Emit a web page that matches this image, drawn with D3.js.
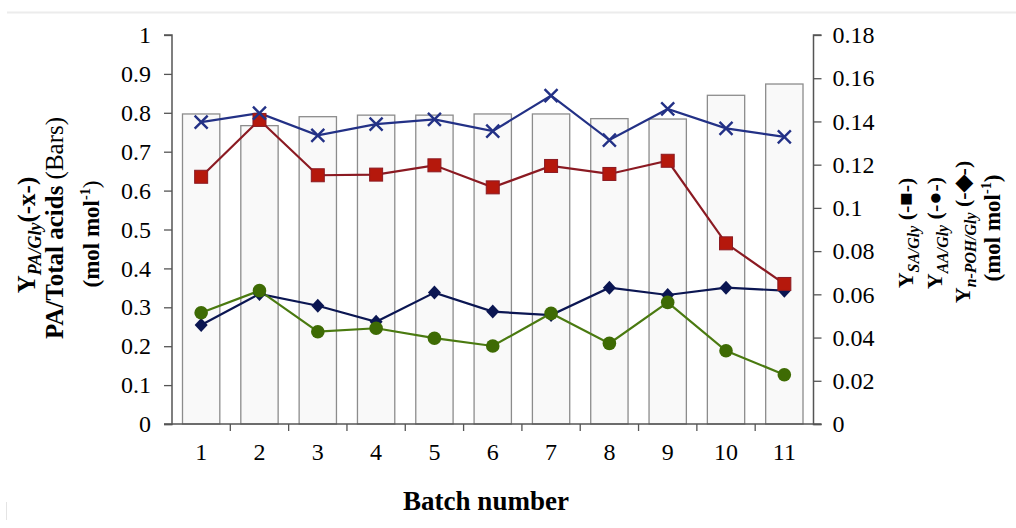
<!doctype html>
<html>
<head>
<meta charset="UTF-8" />
<title>Batch yields</title>
<script src="https://d3js.org/d3.v7.min.js"></script>
<style>
  body { margin: 0; background: #fff; }
  svg text { font-family: "Liberation Serif", "Times New Roman", serif; fill: #000; }
</style>
</head>
<body>
<div id="chart"></div>
<script>
// data
const batches = ["1", "2", "3", "4", "5", "6", "7", "8", "9", "10", "11"];
const paTotalAcids = [0.797, 0.767, 0.790, 0.794, 0.794, 0.797, 0.797, 0.785, 0.784, 0.845, 0.874];
const yPA = [0.776, 0.799, 0.742, 0.771, 0.783, 0.753, 0.844, 0.730, 0.810, 0.760, 0.738];
const ySA = [0.1144, 0.1407, 0.1151, 0.1154, 0.1197, 0.1095, 0.1194, 0.1157, 0.1218, 0.0836, 0.0648];
const yAA = [0.0515, 0.0617, 0.0427, 0.0443, 0.0397, 0.0361, 0.0512, 0.0373, 0.0563, 0.0339, 0.0228];
const yPOH = [0.0458, 0.0602, 0.0547, 0.0473, 0.0608, 0.0520, 0.0504, 0.0631, 0.0597, 0.0631, 0.0617];
const leftTicks = [0, 0.1, 0.2, 0.3, 0.4, 0.5, 0.6, 0.7, 0.8, 0.9, 1];
const rightTicks = [0, 0.02, 0.04, 0.06, 0.08, 0.1, 0.12, 0.14, 0.16, 0.18];

const W = 1016, H = 528;
const pLeft = 172, pRight = 813.5, pTop = 35, pBottom = 424;

const svg = d3.select("#chart").append("svg")
    .attr("width", W)
    .attr("height", H);

// faint frame bits of the scanned figure
svg.append("line").attr("x1", 7).attr("x2", 1016).attr("y1", 12.5).attr("y2", 12.5)
    .attr("stroke", "#ececec").attr("stroke-width", 2);
svg.append("line").attr("x1", 6.5).attr("x2", 6.5).attr("y1", 502).attr("y2", 520)
    .attr("stroke", "#e4e4e4").attr("stroke-width", 1);

const x = d3.scaleBand().domain(batches).range([pLeft, pRight]).paddingInner(0.36).paddingOuter(0.18);
const xb = d3.scaleBand().domain(batches).range([pLeft, pRight]);
const yL = d3.scaleLinear().domain([0, 1]).range([pBottom, pTop]);
const yR = d3.scaleLinear().domain([0, 0.18]).range([pBottom, pTop]);

// bars
svg.append("g").selectAll("rect")
  .data(paTotalAcids)
  .join("rect")
    .attr("x", (d, i) => x(batches[i]))
    .attr("y", d => yL(d))
    .attr("width", x.bandwidth())
    .attr("height", d => pBottom - yL(d))
    .attr("fill", "#f9f9f9")
    .attr("stroke", "#8c8c8c")
    .attr("stroke-width", 1.3);

const cx = i => xb(batches[i]) + xb.bandwidth() / 2;

// axes
const axisColor = "#555";
const gL = svg.append("g").attr("transform", `translate(${pLeft},0)`)
    .call(d3.axisLeft(yL).tickValues(leftTicks).tickSize(8).tickPadding(13).tickFormat(d3.format("")));
const gR = svg.append("g").attr("transform", `translate(${pRight},0)`)
    .call(d3.axisRight(yR).tickValues(rightTicks).tickSize(8).tickPadding(11).tickFormat(d3.format("")));
const gX = svg.append("g").attr("transform", `translate(0,${pBottom})`)
    .call(d3.axisBottom(xb).tickSize(0).tickPadding(19));
// x ticks sit at the band boundaries
gX.selectAll(".bnd").data(d3.range(1, batches.length))
  .join("line")
    .attr("class", "bnd")
    .attr("x1", i => pLeft + i * xb.step()).attr("x2", i => pLeft + i * xb.step())
    .attr("y1", 0).attr("y2", 7)
    .attr("stroke", axisColor).attr("stroke-width", 1.3);
[gL, gR, gX].forEach(g => {
  g.select(".domain").attr("stroke", axisColor).attr("stroke-width", 1.5);
  g.selectAll(".tick line").attr("stroke", axisColor).attr("stroke-width", 1.3);
  g.selectAll("text").attr("font-size", 24).attr("font-family", "Liberation Serif").attr("fill", "#000");
});
gL.select(".domain").attr("d", `M-8,${pTop}H0V${pBottom + 0.5}H-8`);
gR.select(".domain").attr("d", `M8,${pTop}H0V${pBottom + 0.5}H8`);
gX.select(".domain").attr("d", `M${pLeft - 8},0H${pRight + 8}`);

// series lines
const lineOf = (arr, y) => d3.line().x((d, i) => cx(i)).y(d => y(d))(arr);
const series = [
  { vals: yPOH, y: yR, line: "#0b1652" },
  { vals: yAA, y: yR, line: "#4a7a10" },
  { vals: ySA, y: yR, line: "#8b1a22" },
  { vals: yPA, y: yL, line: "#233186" }
];
series.forEach(s => {
  svg.append("path").attr("d", lineOf(s.vals, s.y))
    .attr("fill", "none").attr("stroke", s.line).attr("stroke-width", 2.2);
});

// markers
svg.append("g").selectAll("path").data(yPOH).join("path")
    .attr("transform", (d, i) => `translate(${cx(i)},${yR(d)})`)
    .attr("d", "M0,-7L6.5,0L0,7L-6.5,0Z")
    .attr("fill", "#0b1652");
svg.append("g").selectAll("circle").data(yAA).join("circle")
    .attr("cx", (d, i) => cx(i)).attr("cy", d => yR(d)).attr("r", 6.8)
    .attr("fill", "#3e6b04");
svg.append("g").selectAll("rect").data(ySA).join("rect")
    .attr("x", (d, i) => cx(i) - 6.5).attr("y", d => yR(d) - 6.5)
    .attr("width", 13).attr("height", 13)
    .attr("fill", "#b5180c").attr("stroke", "#8b1a22").attr("stroke-width", 1);
svg.append("g").selectAll("path").data(yPA).join("path")
    .attr("transform", (d, i) => `translate(${cx(i)},${yL(d)})`)
    .attr("d", "M-6.5,-6.5L6.5,6.5M-6.5,6.5L6.5,-6.5")
    .attr("stroke", "#233186").attr("stroke-width", 2.4).attr("fill", "none");

// axis titles
function vtitle(xpos, cy, size, parts) {
  const t = svg.append("text")
      .attr("transform", `translate(${xpos},${cy}) rotate(-90)`)
      .attr("text-anchor", "middle")
      .attr("font-size", size).attr("font-weight", "bold");
  parts.forEach(p => {
    const s = t.append("tspan").text(p.t);
    if (p.sub) s.attr("font-size", size * 0.72).attr("font-style", "italic").attr("dy", size * 0.25);
    if (p.up) s.attr("font-size", size * 0.62).attr("dy", -size * 0.4);
    if (p.back) s.attr("dy", p.back * size);
    if (p.normal) s.attr("font-weight", "normal");
  });
  return t;
}
vtitle(35, 235, 25, [{ t: "Y" }, { t: "PA/Gly", sub: true }, { t: "(-x-)", back: -0.25 }]);
vtitle(63, 228, 25, [{ t: "PA/Total acids " }, { t: "(Bars)", normal: true }]);
vtitle(99, 234, 23, [{ t: "(mol mol" }, { t: "-1", up: true }, { t: ")", back: 0.4, normal: true }]);

vtitle(913, 233, 22, [{ t: "Y" }, { t: "SA/Gly", sub: true }, { t: " (-\u25A0-)", back: -0.25 }]);
vtitle(942, 233, 22, [{ t: "Y" }, { t: "AA/Gly", sub: true }, { t: " (-\u25CF-)", back: -0.25 }]);
vtitle(970, 232, 22, [{ t: "Y" }, { t: "n-POH/Gly", sub: true }, { t: " (-\u25C6-)", back: -0.25 }]);
vtitle(1000, 228, 23, [{ t: "(mol mol" }, { t: "-1", up: true }, { t: ")", back: 0.4 }]);

svg.append("text")
    .attr("x", 486).attr("y", 510)
    .attr("text-anchor", "middle")
    .attr("font-size", 27).attr("font-weight", "bold")
    .text("Batch number");
</script>
</body>
</html>
